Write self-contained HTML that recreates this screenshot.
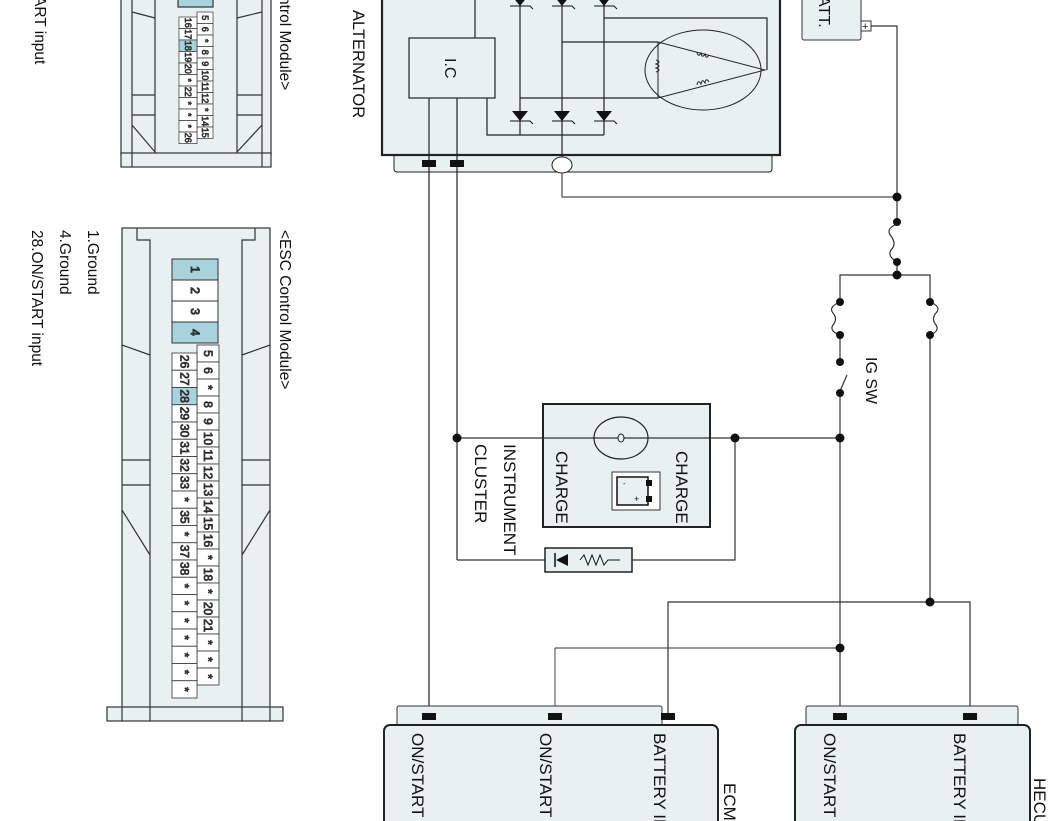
<!DOCTYPE html>
<html><head><meta charset="utf-8"><style>
html,body{margin:0;padding:0;background:#fff;}
svg{display:block;}
text{font-family:"Liberation Sans",sans-serif;fill:#111;}
.c text{font-size:12px;text-anchor:middle;dominant-baseline:central;}
.s text{font-size:9px;text-anchor:middle;dominant-baseline:central;}
</style></head><body>
<svg width="1062" height="821" viewBox="0 0 1062 821" xmlns="http://www.w3.org/2000/svg">
<g stroke="#333" stroke-width="1.2" fill="none">
<rect x="121" y="-5" width="150" height="160" fill="#e8f0f2"/>
<line x1="132" y1="-5" x2="132" y2="155"/><line x1="155" y1="-5" x2="155" y2="167"/>
<line x1="237" y1="-5" x2="237" y2="167"/><line x1="262" y1="-5" x2="262" y2="155"/>
<line x1="132" y1="12" x2="155" y2="18"/><line x1="262" y1="12" x2="237" y2="18"/>
<line x1="132" y1="95" x2="155" y2="95"/><line x1="237" y1="95" x2="262" y2="95"/>
<line x1="132" y1="115" x2="155" y2="115"/><line x1="237" y1="115" x2="262" y2="115"/>
<line x1="132" y1="125" x2="155" y2="152"/><line x1="262" y1="125" x2="237" y2="152"/>
<rect x="121" y="153" width="150" height="14" fill="#e8f0f2"/>
<line x1="132" y1="153" x2="132" y2="167"/><line x1="262" y1="153" x2="262" y2="167"/>
<rect x="178" y="-5" width="35" height="12" fill="#a9d3dc"/>
<rect x="122" y="228" width="148" height="480" fill="#e8f0f2"/>
<polyline points="137,228 137,240 150,240 150,708"/><polyline points="255,228 255,240 242,240 242,708"/>
<line x1="122" y1="345" x2="150" y2="355"/><line x1="270" y1="345" x2="242" y2="355"/>
<line x1="122" y1="460" x2="150" y2="460"/><line x1="242" y1="460" x2="270" y2="460"/>
<line x1="122" y1="485" x2="150" y2="485"/><line x1="242" y1="485" x2="270" y2="485"/>
<line x1="122" y1="510" x2="150" y2="555"/><line x1="270" y1="510" x2="242" y2="555"/>
<rect x="107" y="707" width="176" height="14" fill="#e8f0f2"/>
<line x1="122" y1="707" x2="122" y2="721"/><line x1="270" y1="707" x2="270" y2="721"/>
<line x1="150" y1="707" x2="150" y2="721"/><line x1="242" y1="707" x2="242" y2="721"/>
</g>
<g stroke="#333" stroke-width="1" class="c">
<rect x="172" y="259" width="46" height="21" fill="#a9d3dc"/><text transform="translate(195,269.5) rotate(90)">1</text>
<rect x="172" y="280" width="46" height="21" fill="#fff"/><text transform="translate(195,290.5) rotate(90)">2</text>
<rect x="172" y="301" width="46" height="21" fill="#fff"/><text transform="translate(195,311.5) rotate(90)">3</text>
<rect x="172" y="322" width="46" height="21" fill="#a9d3dc"/><text transform="translate(195,332.5) rotate(90)">4</text>
</g>
<g stroke="#333" stroke-width="0.8" class="c" fill="#fff">
<rect x="197" y="345" width="22" height="17"/><text transform="translate(208,353.5) rotate(90)">5</text>
<rect x="197" y="362" width="22" height="17"/><text transform="translate(208,370.5) rotate(90)">6</text>
<rect x="197" y="379" width="22" height="17"/><text transform="translate(208,387.5) rotate(90)">*</text>
<rect x="197" y="396" width="22" height="17"/><text transform="translate(208,404.5) rotate(90)">8</text>
<rect x="197" y="413" width="22" height="17"/><text transform="translate(208,421.5) rotate(90)">9</text>
<rect x="197" y="430" width="22" height="17"/><text transform="translate(208,438.5) rotate(90)">10</text>
<rect x="197" y="447" width="22" height="17"/><text transform="translate(208,455.5) rotate(90)">11</text>
<rect x="197" y="464" width="22" height="17"/><text transform="translate(208,472.5) rotate(90)">12</text>
<rect x="197" y="481" width="22" height="17"/><text transform="translate(208,489.5) rotate(90)">13</text>
<rect x="197" y="498" width="22" height="17"/><text transform="translate(208,506.5) rotate(90)">14</text>
<rect x="197" y="515" width="22" height="17"/><text transform="translate(208,523.5) rotate(90)">15</text>
<rect x="197" y="532" width="22" height="17"/><text transform="translate(208,540.5) rotate(90)">16</text>
<rect x="197" y="549" width="22" height="17"/><text transform="translate(208,557.5) rotate(90)">*</text>
<rect x="197" y="566" width="22" height="17"/><text transform="translate(208,574.5) rotate(90)">18</text>
<rect x="197" y="583" width="22" height="17"/><text transform="translate(208,591.5) rotate(90)">*</text>
<rect x="197" y="600" width="22" height="17"/><text transform="translate(208,608.5) rotate(90)">20</text>
<rect x="197" y="617" width="22" height="17"/><text transform="translate(208,625.5) rotate(90)">21</text>
<rect x="197" y="634" width="22" height="17"/><text transform="translate(208,642.5) rotate(90)">*</text>
<rect x="197" y="651" width="22" height="17"/><text transform="translate(208,659.5) rotate(90)">*</text>
<rect x="197" y="668" width="22" height="17"/><text transform="translate(208,676.5) rotate(90)">*</text>
<rect x="172" y="353" width="25" height="17.25"/><text transform="translate(184.5,361.6) rotate(90)">26</text>
<rect x="172" y="370.25" width="25" height="17.25"/><text transform="translate(184.5,378.9) rotate(90)">27</text>
<rect x="172" y="387.5" width="25" height="17.25" fill="#a9d3dc"/><text transform="translate(184.5,396.1) rotate(90)">28</text>
<rect x="172" y="404.75" width="25" height="17.25"/><text transform="translate(184.5,413.4) rotate(90)">29</text>
<rect x="172" y="422" width="25" height="17.25"/><text transform="translate(184.5,430.6) rotate(90)">30</text>
<rect x="172" y="439.25" width="25" height="17.25"/><text transform="translate(184.5,447.9) rotate(90)">31</text>
<rect x="172" y="456.5" width="25" height="17.25"/><text transform="translate(184.5,465.1) rotate(90)">32</text>
<rect x="172" y="473.75" width="25" height="17.25"/><text transform="translate(184.5,482.4) rotate(90)">33</text>
<rect x="172" y="491" width="25" height="17.25"/><text transform="translate(184.5,499.6) rotate(90)">*</text>
<rect x="172" y="508.25" width="25" height="17.25"/><text transform="translate(184.5,516.9) rotate(90)">35</text>
<rect x="172" y="525.5" width="25" height="17.25"/><text transform="translate(184.5,534.1) rotate(90)">*</text>
<rect x="172" y="542.75" width="25" height="17.25"/><text transform="translate(184.5,551.4) rotate(90)">37</text>
<rect x="172" y="560" width="25" height="17.25"/><text transform="translate(184.5,568.6) rotate(90)">38</text>
<rect x="172" y="577.25" width="25" height="17.25"/><text transform="translate(184.5,585.9) rotate(90)">*</text>
<rect x="172" y="594.5" width="25" height="17.25"/><text transform="translate(184.5,603.1) rotate(90)">*</text>
<rect x="172" y="611.75" width="25" height="17.25"/><text transform="translate(184.5,620.4) rotate(90)">*</text>
<rect x="172" y="629" width="25" height="17.25"/><text transform="translate(184.5,637.6) rotate(90)">*</text>
<rect x="172" y="646.25" width="25" height="17.25"/><text transform="translate(184.5,654.9) rotate(90)">*</text>
<rect x="172" y="663.5" width="25" height="17.25"/><text transform="translate(184.5,672.1) rotate(90)">*</text>
<rect x="172" y="680.75" width="25" height="17.25"/><text transform="translate(184.5,689.4) rotate(90)">*</text>
</g>
<g stroke="#333" stroke-width="0.7" class="s" fill="#fff">
<rect x="197" y="12" width="16" height="11.5"/><text transform="translate(205,17.7) rotate(90)">5</text>
<rect x="197" y="23.5" width="16" height="11.5"/><text transform="translate(205,29.2) rotate(90)">6</text>
<rect x="197" y="35" width="16" height="11.5"/><text transform="translate(205,40.7) rotate(90)">*</text>
<rect x="197" y="46.5" width="16" height="11.5"/><text transform="translate(205,52.2) rotate(90)">8</text>
<rect x="197" y="58" width="16" height="11.5"/><text transform="translate(205,63.7) rotate(90)">9</text>
<rect x="197" y="69.5" width="16" height="11.5"/><text transform="translate(205,75.2) rotate(90)">10</text>
<rect x="197" y="81" width="16" height="11.5"/><text transform="translate(205,86.7) rotate(90)">11</text>
<rect x="197" y="92.5" width="16" height="11.5"/><text transform="translate(205,98.2) rotate(90)">12</text>
<rect x="197" y="104" width="16" height="11.5"/><text transform="translate(205,109.7) rotate(90)">*</text>
<rect x="197" y="115.5" width="16" height="11.5"/><text transform="translate(205,121.2) rotate(90)">14</text>
<rect x="197" y="127" width="16" height="11.5"/><text transform="translate(205,132.7) rotate(90)">15</text>
<rect x="179" y="17" width="18" height="11.5"/><text transform="translate(188,22.7) rotate(90)">16</text>
<rect x="179" y="28.5" width="18" height="11.5"/><text transform="translate(188,34.2) rotate(90)">17</text>
<rect x="179" y="40" width="18" height="11.5" fill="#a9d3dc"/><text transform="translate(188,45.7) rotate(90)">18</text>
<rect x="179" y="51.5" width="18" height="11.5"/><text transform="translate(188,57.2) rotate(90)">19</text>
<rect x="179" y="63" width="18" height="11.5"/><text transform="translate(188,68.7) rotate(90)">20</text>
<rect x="179" y="74.5" width="18" height="11.5"/><text transform="translate(188,80.2) rotate(90)">*</text>
<rect x="179" y="86" width="18" height="11.5"/><text transform="translate(188,91.7) rotate(90)">22</text>
<rect x="179" y="97.5" width="18" height="11.5"/><text transform="translate(188,103.2) rotate(90)">*</text>
<rect x="179" y="109" width="18" height="11.5"/><text transform="translate(188,114.7) rotate(90)">*</text>
<rect x="179" y="120.5" width="18" height="11.5"/><text transform="translate(188,126.2) rotate(90)">*</text>
<rect x="179" y="132" width="18" height="11.5"/><text transform="translate(188,137.7) rotate(90)">26</text>
</g>
<g font-size="15.5">
<text transform="translate(280,-4) rotate(90)">ntrol Module&gt;</text>
<text transform="translate(35,-4) rotate(90)">ART input</text>
<text transform="translate(280,230) rotate(90)">&lt;ESC Control Module&gt;</text>
<text transform="translate(88,230) rotate(90)">1.Ground</text>
<text transform="translate(60,230) rotate(90)">4.Ground</text>
<text transform="translate(32,230) rotate(90)">28.ON/START input</text>
</g>

<g stroke="#222" fill="none" stroke-width="1.2">
<rect x="394" y="150" width="378" height="22" rx="3" fill="#e8f0f2" stroke-width="1"/>
<rect x="382" y="-5" width="398" height="160" fill="#e8f0f2" stroke-width="2.2"/>
<rect x="409" y="38" width="86" height="60" fill="#e8f0f2"/>
<line x1="475" y1="-5" x2="475" y2="38"/>
<polyline points="487,98 487,135 604,135"/>
<line x1="520" y1="-5" x2="520" y2="135"/><line x1="562" y1="-5" x2="562" y2="165"/><line x1="604" y1="-5" x2="604" y2="135"/>
<line x1="429" y1="98" x2="429" y2="716"/><line x1="457" y1="98" x2="457" y2="560"/>
<polyline points="604,18 767,18 767,70"/>
<line x1="562" y1="42" x2="658" y2="42"/><line x1="520" y1="98" x2="658" y2="98"/>
<ellipse cx="703" cy="70" rx="58" ry="40" stroke-width="1"/>
<polygon points="658,42 658,98 765,70" stroke-width="1"/>
<path d="M656,60 q6,2 0,4 q6,2 0,4 q6,2 0,4" stroke-width="1"/>
<path d="M697,52 q1,6 4,1 q1,6 4,1 q1,6 4,1" stroke-width="1"/>
<path d="M697,85 q1,-6 4,-1 q1,-6 4,-1 q1,-6 4,-1" stroke-width="1"/>
<ellipse cx="562" cy="165" rx="10" ry="8" fill="#fff" stroke-width="1"/>
<polyline points="562,173 562,197 897,197" stroke-width="1"/>
</g>
<g fill="#111">
<polygon points="512,-4 528,-4 520,6"/><polygon points="554,-4 570,-4 562,6"/><polygon points="596,-4 612,-4 604,6"/>
<polygon points="512,111 528,111 520,121"/><polygon points="554,111 570,111 562,121"/><polygon points="596,111 612,111 604,121"/>
<rect x="422" y="160" width="14" height="7"/><rect x="450" y="160" width="14" height="7"/>
</g>
<g stroke="#111" stroke-width="1" fill="none">
<path d="M510,6 h20 l3,3"/><path d="M552,6 h20 l3,3"/><path d="M594,6 h20 l3,3"/>
<path d="M510,121 h20 l3,3"/><path d="M552,121 h20 l3,3"/><path d="M594,121 h20 l3,3"/>
</g>
<text transform="translate(445,58) rotate(90)" font-size="16">I.C</text>
<text transform="translate(353,10) rotate(90)" font-size="16.5">ALTERNATOR</text>

<rect x="802" y="-5" width="59" height="45" rx="2" fill="#e8f0f2" stroke="#333"/>
<text transform="translate(819,-4) rotate(90)" font-size="16">ATT.</text>
<rect x="861" y="21" width="10" height="10" fill="#fff" stroke="#333"/>
<text x="862" y="30" font-size="11">+</text>

<g stroke="#333" stroke-width="1.2" fill="none">
<polyline points="871,26 897,26 897,224"/>
<path d="M897,224 q-12,5 -6,12 q6,8 0,14 q-4,6 6,12"/>
<polyline points="897,262 897,275"/>
<polyline points="840,302 840,275 930,275 930,302"/>
<path d="M840,302 q-12,5 -7,11 q5,6 0,12 q-4,6 7,10"/>
<path d="M930,302 q12,5 6,11 q-5,6 0,12 q4,6 -6,10"/>
<line x1="840" y1="335" x2="840" y2="362"/>
<line x1="840" y1="393" x2="840" y2="716"/>
<line x1="840" y1="391" x2="847" y2="375"/>
<line x1="930" y1="335" x2="930" y2="602"/>
<polyline points="668,716 668,602 970,602 970,716"/>
<polyline points="555,716 555,648 840,648" stroke-width="0.9"/>
<line x1="457" y1="438" x2="840" y2="438"/>
<polyline points="457,560 547,560"/><polyline points="632,560 735,560 735,438"/>
</g>
<g fill="#111">
<circle cx="897" cy="197" r="4.5"/><circle cx="897" cy="222" r="4"/><circle cx="897" cy="262" r="4"/><circle cx="897" cy="275" r="4.5"/>
<circle cx="840" cy="302" r="4"/><circle cx="840" cy="335" r="4"/><circle cx="930" cy="302" r="4"/><circle cx="930" cy="335" r="4"/>
<circle cx="840" cy="362" r="4"/><circle cx="840" cy="393" r="4"/>
<circle cx="457" cy="438" r="4.5"/><circle cx="735" cy="438" r="4.5"/><circle cx="840" cy="438" r="4.5"/>
<circle cx="930" cy="602" r="4.5"/><circle cx="840" cy="648" r="4.5"/>
</g>
<text transform="translate(866,357) rotate(90)" font-size="16">IG SW</text>

<rect x="543" y="404" width="167" height="123" fill="#e8f0f2" stroke="#222" stroke-width="2"/>
<line x1="543" y1="438" x2="710" y2="438" stroke="#333" stroke-width="1.2"/>
<ellipse cx="621" cy="438" rx="27" ry="21" fill="none" stroke="#222" stroke-width="1.2"/>
<ellipse cx="621" cy="438" rx="3" ry="4" fill="#e8f0f2" stroke="#222"/>
<rect x="612" y="472" width="48" height="38" fill="#fff" stroke="#333"/>
<rect x="617" y="477" width="31" height="28" fill="#e8f0f2" stroke="#111" stroke-width="1.5"/>
<rect x="646" y="480" width="6" height="6" fill="#111"/><rect x="646" y="496" width="6" height="6" fill="#111"/>
<text x="623" y="486" font-size="8">-</text><text x="634" y="502" font-size="9">+</text>
<g font-size="17">
<text transform="translate(676,451) rotate(90)">CHARGE</text>
<text transform="translate(556,451) rotate(90)">CHARGE</text>
<text transform="translate(504,444) rotate(90)">INSTRUMENT</text>
<text transform="translate(475,444) rotate(90)">CLUSTER</text>
</g>
<rect x="545" y="548" width="87" height="24" fill="#e8f0f2" stroke="#222" stroke-width="1.5"/>
<line x1="555" y1="553" x2="555" y2="567" stroke="#111" stroke-width="1.5"/>
<polygon points="556,560 568,554 568,566" fill="#111"/>
<polyline points="580,560 584,555 588,565 592,555 596,565 600,555 604,565 608,560 620,560" fill="none" stroke="#111"/>

<rect x="397" y="706" width="265" height="22" rx="2" fill="#e8f0f2" stroke="#333"/>
<rect x="384" y="725" width="334" height="110" rx="6" fill="#e8f0f2" stroke="#222" stroke-width="2"/>
<rect x="422" y="713" width="14" height="7" fill="#111"/><rect x="548" y="713" width="14" height="7" fill="#111"/><rect x="661" y="713" width="14" height="7" fill="#111"/>
<g font-size="17">
<text transform="translate(412,733) rotate(90)">ON/START IN</text>
<text transform="translate(540,733) rotate(90)">ON/START IN</text>
<text transform="translate(654,733) rotate(90)">BATTERY IN</text>
<text transform="translate(724,783) rotate(90)">ECM</text>
</g>
<rect x="806" y="706" width="212" height="22" rx="2" fill="#e8f0f2" stroke="#333"/>
<rect x="795" y="725" width="235" height="110" rx="6" fill="#e8f0f2" stroke="#222" stroke-width="2"/>
<rect x="833" y="713" width="14" height="7" fill="#111"/><rect x="963" y="713" width="14" height="7" fill="#111"/>
<g font-size="17">
<text transform="translate(824,733) rotate(90)">ON/START IN</text>
<text transform="translate(954,733) rotate(90)">BATTERY IN</text>
<text transform="translate(1034,778) rotate(90)">HECU</text>
</g>
</svg>
</body></html>
